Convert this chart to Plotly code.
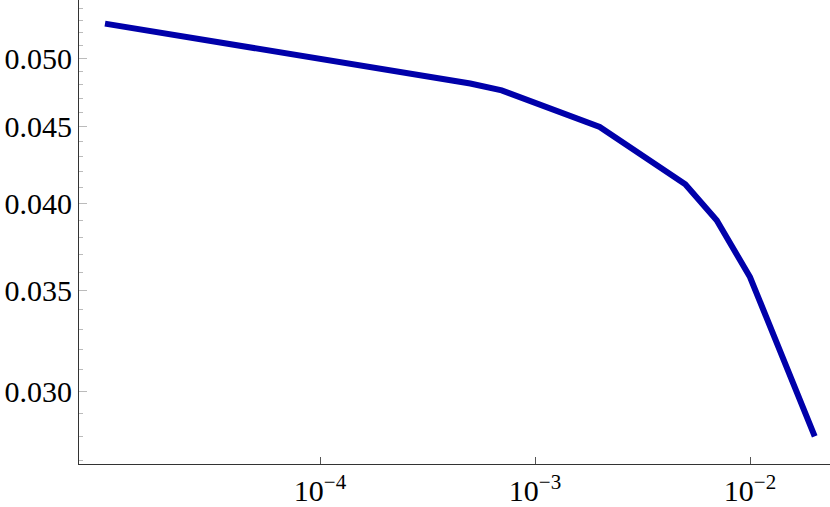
import plotly.graph_objects as go

# data (log-log)
x_vals = [1e-5, 5e-4, 7e-4, 2e-3, 5e-3, 7e-3, 1e-2, 2e-2]
y_vals = [0.05273, 0.04810, 0.04760, 0.04500, 0.04122, 0.03900, 0.03575, 0.02800]

y_major = [0.030, 0.035, 0.040, 0.045, 0.050]
y_major_text = ["0.030", "0.035", "0.040", "0.045", "0.050"]
y_minor = [0.027, 0.028, 0.029, 0.031, 0.032, 0.033, 0.034, 0.036, 0.037, 0.038,
           0.039, 0.041, 0.042, 0.043, 0.044, 0.046, 0.047, 0.048, 0.049, 0.051,
           0.052, 0.053, 0.054]
x_major = [1e-4, 1e-3, 1e-2]
x_major_text = ["10<sup>\u22124</sup>", "10<sup>\u22123</sup>", "10<sup>\u22122</sup>"]

fig = go.Figure()
fig.add_trace(go.Scatter(x=x_vals, y=y_vals, mode="lines",
                         line=dict(color="#0000AA", width=6), showlegend=False))

font = dict(family="Liberation Serif", size=30, color="black")

fig.update_layout(
    width=830, height=507,
    margin=dict(l=79, r=0, t=0, b=43, autoexpand=False),
    plot_bgcolor="white", paper_bgcolor="white",
    font=font,
    xaxis=dict(type="log", range=[-5.1209, -1.6279], automargin=False,
               showgrid=False, zeroline=False,
               showline=True, linecolor="#333333", linewidth=1.2,
               ticks="inside", ticklen=7, tickcolor="#555555", tickwidth=1,
               tickmode="array", tickvals=x_major, ticktext=x_major_text,
               tickfont=font),
    yaxis=dict(type="log", range=[-1.57126, -1.2622], automargin=False,
               showgrid=False, zeroline=False,
               showline=True, linecolor="#333333", linewidth=1.2,
               ticks="inside", ticklen=8, tickcolor="#bbbbbb", tickwidth=1,
               tickmode="array", tickvals=y_major, ticktext=y_major_text,
               tickfont=font,
               minor=dict(tickmode="array", tickvals=y_minor, ticks="inside",
                          ticklen=4, tickcolor="#bbbbbb", tickwidth=1)),
)

# page body has a default 8px margin; drop it so the figure sits at 0,0
fig.write_html("out.html", config={"displayModeBar": False},
               post_script="document.body.style.margin='0';")
